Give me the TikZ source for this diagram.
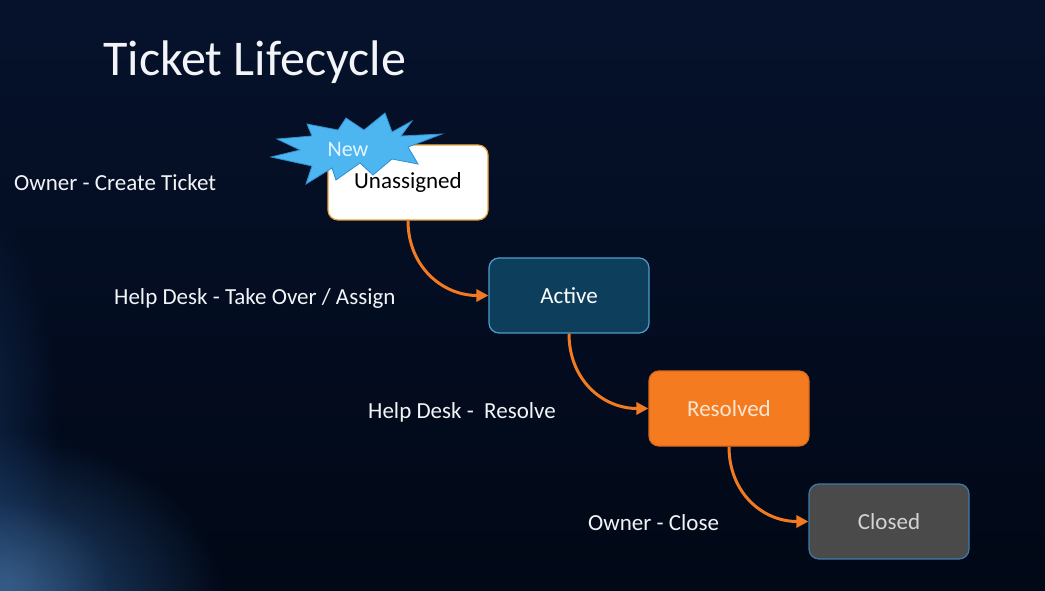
\documentclass[tikz,border=0pt]{standalone}
\usepackage{fontspec}
\setmainfont{Carlito}
\usetikzlibrary{arrows.meta,fadings}

\definecolor{bgtop}{HTML}{06122C}
\definecolor{bgbot}{HTML}{010816}
\definecolor{glowblue}{HTML}{3468A4}
\definecolor{glowdeep}{HTML}{1C4478}
\definecolor{labelwhite}{HTML}{F2F4F8}
\definecolor{flowor}{HTML}{F27A22}
\definecolor{unfill}{HTML}{FFFFFF}
\definecolor{undraw}{HTML}{E9A23A}
\definecolor{acfill}{HTML}{0D3F5D}
\definecolor{acdraw}{HTML}{4E9DC8}
\definecolor{refill}{HTML}{F47B20}
\definecolor{redraw}{HTML}{E0691A}
\definecolor{retext}{HTML}{FCE6D2}
\definecolor{clfill}{HTML}{4A4A4A}
\definecolor{cldraw}{HTML}{3F7AA8}
\definecolor{cltext}{HTML}{D4D4D4}
\definecolor{burstfill}{HTML}{4DB6F0}
\definecolor{burstdraw}{HTML}{2F8FD0}
\definecolor{bursttext}{HTML}{E6F5FF}

\tikzfading[name=softglow, inner color=transparent!0, outer color=transparent!100]

\begin{document}
\begin{tikzpicture}[x=1pt,y=-1pt,
  stage/.style={rectangle, rounded corners=10pt, minimum width=160pt,
    minimum height=75pt, line width=1.2pt, inner sep=0pt,
    font=\fontsize{23}{27}\selectfont},
  lbl/.style={anchor=base west, text=labelwhite, inner sep=0pt,
    font=\fontsize{23}{27}\selectfont},
  flow/.style={draw=flowor, line width=3pt,
    -{Triangle[length=12pt,width=12pt]}}
]
% page and background
\useasboundingbox (0,0) rectangle (1045,591);
\shade[top color=bgtop, bottom color=bgbot] (0,0) rectangle (1045,591);
\begin{scope}
  \clip (0,0) rectangle (1045,591);
  \fill[glowdeep, path fading=softglow, opacity=0.5]
    (-40,430) ellipse [x radius=100, y radius=240];
  \fill[glowblue, path fading=softglow, opacity=0.8]
    (-10,620) ellipse [x radius=240, y radius=190];
  \fill[glowblue!70!white, path fading=softglow, opacity=0.25]
    (10,580) ellipse [x radius=100, y radius=80];
\end{scope}

% title
\node[anchor=base west, text=labelwhite, inner sep=0pt,
  font=\fontsize{50}{60}\selectfont] (title) at (103,76) {Ticket Lifecycle};

% stages
\node[stage, fill=unfill, draw=undraw, text=black] (ua) at (408,182.5) {Unassigned};
\node[stage, fill=acfill, draw=acdraw, text=white] (act) at (569,295.5) {Active};
\node[stage, fill=refill, draw=redraw, text=retext] (res) at (729,408.5) {Resolved};
\node[stage, fill=clfill, draw=cldraw, text=cltext] (clo) at (889,521.5) {Closed};

% "New" starburst over the first stage
\filldraw[fill=burstfill, draw=burstdraw, line width=0.8pt, line join=miter]
  (385,113) -- (392,132) -- (412,121) -- (401,136) -- (442,134) -- (408,147)
  -- (418,164) -- (392,159) -- (373,175) -- (360,163) -- (336,180) -- (332,168)
  -- (306,184) -- (312,166) -- (271,157) -- (300,150) -- (277,139) -- (312,136)
  -- (307,124) -- (338,130) -- (346,118) -- (364,130) -- cycle;
\node[text=bursttext, inner sep=0pt, font=\fontsize{22}{26}\selectfont]
  (new) at (348,150) {New};

% transition labels
\node[lbl] (l1) at (14,191) {Owner - Create Ticket};
\node[lbl] (l2) at (114,304) {Help Desk - Take Over / Assign};
\node[lbl] (l3) at (368,418) {Help Desk -\ \ Resolve};
\node[lbl] (l4) at (588,530) {Owner - Close};

% transitions
\draw[flow] (ua.south) .. controls +(0,46) and +(-46,0) .. (act.west);
\draw[flow] (act.south) .. controls +(0,46) and +(-46,0) .. (res.west);
\draw[flow] (res.south) .. controls +(0,46) and +(-46,0) .. (clo.west);
\end{tikzpicture}
\end{document}
